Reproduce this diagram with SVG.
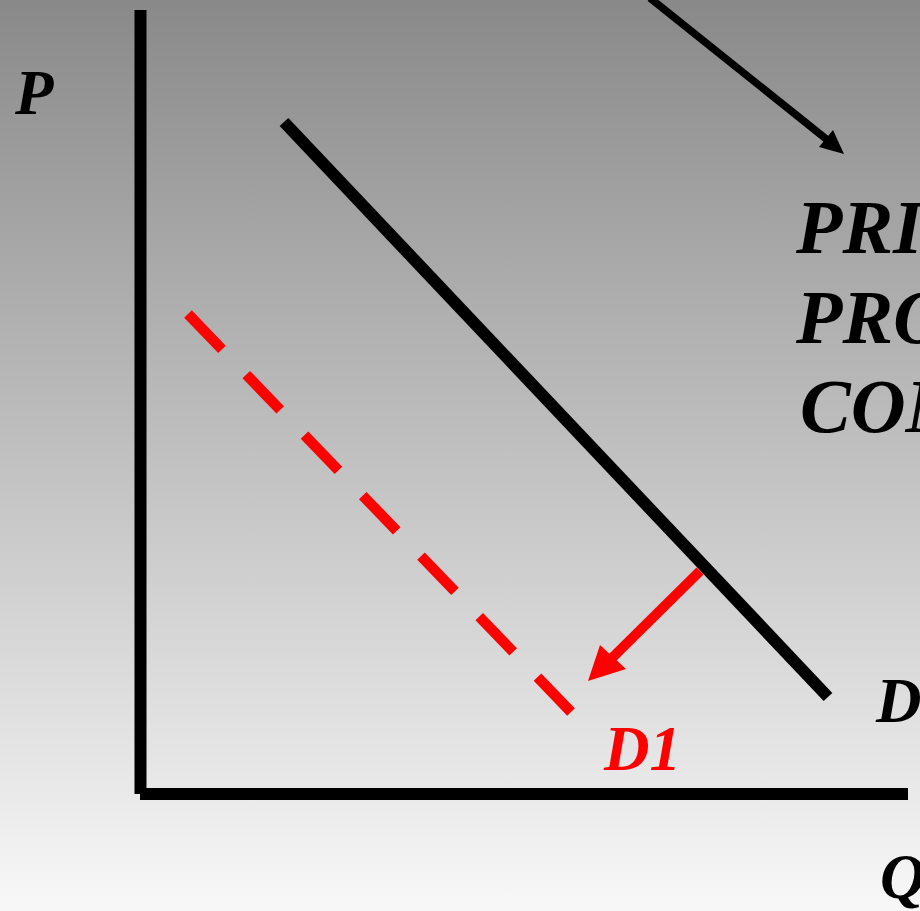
<svg xmlns="http://www.w3.org/2000/svg" width="920" height="911" viewBox="0 0 920 911">
<defs>
<linearGradient id="bg" x1="0" y1="0" x2="0" y2="1">
<stop offset="0" stop-color="#898989"/>
<stop offset="1" stop-color="#f8f8f8"/>
</linearGradient>
<style>
.ax{stroke:#000;stroke-width:12;fill:none}
</style>
</defs>
<rect x="0" y="0" width="920" height="911" fill="url(#bg)"/>
<g id="axes">
<line class="ax" x1="140.5" y1="10" x2="140.5" y2="794"/>
<line class="ax" x1="140" y1="794" x2="908" y2="794"/>
</g>
<g id="demand-D">
<line x1="284" y1="122" x2="828" y2="697" stroke="#000" stroke-width="12"/>
</g>
<g id="demand-D1">
<line x1="188" y1="314" x2="571" y2="712" stroke="#f00" stroke-width="10.5" stroke-dasharray="49 35"/>
</g>
<g id="connectors">
<line x1="650" y1="-2" x2="830" y2="142" stroke="#000" stroke-width="7.5"/>
<polygon points="844,154 833,130 819,147" fill="#000"/>
<line x1="700" y1="571" x2="610" y2="660" stroke="#f00" stroke-width="10"/>
<polygon points="588,681 600,645 626,669" fill="#f00"/>
</g>
<g id="labels" font-family="Liberation Serif" font-weight="bold" font-style="italic">
<text x="15" y="114" font-size="63">P</text>
<text x="796" y="253" font-size="76">PRI</text>
<text x="796" y="343" font-size="76">PRO</text>
<text x="800" y="432" font-size="76">CON</text>
<text x="876" y="722" font-size="63">D</text>
<text x="604" y="770" font-size="63" fill="#f00">D1</text>
<text x="880" y="898" font-size="63">Q</text>
</g>
</svg>
